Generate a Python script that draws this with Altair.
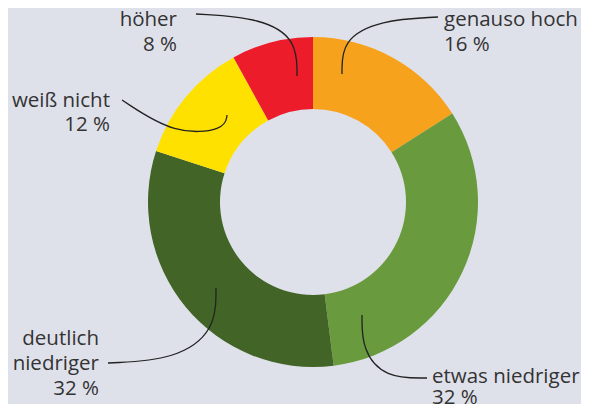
import altair as alt
import pandas as pd

# Donut data (clockwise from 12 o'clock)
categories = ["genauso hoch", "etwas niedriger", "deutlich niedriger", "weiß nicht", "höher"]
shares = [16, 32, 32, 12, 8]
colors = ["#f7a21d", "#6a9a3e", "#426427", "#ffe100", "#ec1c2a"]

# Label lines (page coordinates: x, baseline y)
left_lines = ["genauso hoch", "16 %", "etwas niedriger", "32 %"]
left_x = [444, 444, 432, 432]
left_y = [26, 51, 383, 404]

right_lines = ["höher", "8 %", "weiß nicht", "12 %", "deutlich", "niedriger", "32 %"]
right_x = [177, 177, 110, 110, 99, 99, 99]
right_y = [26, 51, 107, 131, 345, 370, 395]

# Leader line control points (page coordinates)
leader_id = ["h"] * 4 + ["w"] * 4 + ["g"] * 4 + ["d"] * 4 + ["e"] * 4
leader_x = [196, 262, 297, 297,
            122, 175, 225, 227,
            438, 380, 342, 342,
            108, 175, 216, 216,
            427, 385, 362, 362]
leader_y = [14, 18, 40, 76,
            100, 135, 130, 115,
            17, 20, 40, 74,
            363, 360, 330, 288,
            378, 378, 350, 315]
leader_ord = [0, 1, 2, 3] * 5

W, H = 573, 396
center_x = 313 - 8
center_y = 202 - 8

pie = pd.DataFrame({"cat": categories, "value": shares, "ord": list(range(len(shares)))})
lt = pd.DataFrame({"t": left_lines, "x": left_x, "y": left_y})
rt = pd.DataFrame({"t": right_lines, "x": right_x, "y": right_y})
ld = pd.DataFrame({"id": leader_id, "x": leader_x, "y": leader_y, "o": leader_ord})

xs = alt.Scale(domain=[8, 8 + W], range=[0, W])
ys = alt.Scale(domain=[8, 8 + H], range=[0, H])

arc = alt.Chart(pie).mark_arc(outerRadius=165, innerRadius=93).encode(
    theta=alt.Theta("value:Q", stack=True),
    order=alt.Order("ord:Q"),
    color=alt.Color("cat:N", scale=alt.Scale(domain=categories, range=colors), legend=None),
    x=alt.value(center_x),
    y=alt.value(center_y),
)

lines = alt.Chart(ld).mark_line(interpolate="basis", color="#222222", strokeWidth=1.3).encode(
    x=alt.X("x:Q", scale=xs, axis=None),
    y=alt.Y("y:Q", scale=ys, axis=None),
    detail="id:N",
    order="o:Q",
)

font = "Open Sans"
fs = 20.5
tl = alt.Chart(lt).mark_text(align="left", baseline="alphabetic", font=font, fontSize=fs, color="#333333").encode(
    x=alt.X("x:Q", scale=xs, axis=None),
    y=alt.Y("y:Q", scale=ys, axis=None),
    text="t:N",
)
tr = alt.Chart(rt).mark_text(align="right", baseline="alphabetic", font=font, fontSize=fs, color="#333333").encode(
    x=alt.X("x:Q", scale=xs, axis=None),
    y=alt.Y("y:Q", scale=ys, axis=None),
    text="t:N",
)

chart = alt.layer(arc, lines, tl, tr).properties(
    width=W, height=H, autosize=alt.AutoSizeParams(type="none"), padding=0,
    background="#dfe1ea",
).configure_view(stroke=None)

chart.save("out.html", embed_options={"renderer": "svg", "actions": False})
